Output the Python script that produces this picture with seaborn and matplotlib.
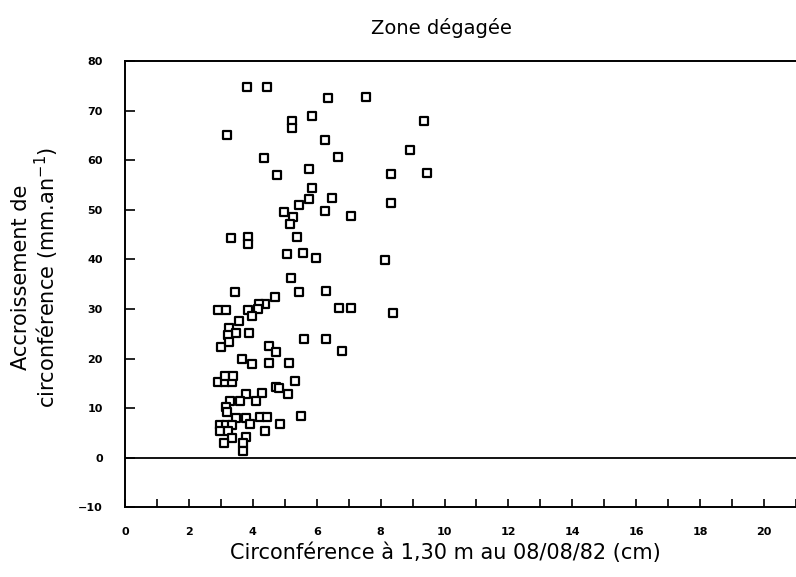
import matplotlib
matplotlib.use("Agg")
import matplotlib.pyplot as plt
import seaborn as sns
import pandas as pd
from matplotlib.ticker import MultipleLocator

# circonférence (cm) et accroissement (mm/an)
circ = [3.82, 4.45, 6.36, 7.55, 5.24, 5.24, 5.86, 3.20, 6.27, 4.36,
        6.68, 4.76, 5.77, 5.86, 5.77, 6.49, 5.45, 4.98, 6.27, 7.08,
        5.27, 5.17, 5.39, 3.32, 3.86, 3.86, 5.08, 5.58, 5.99, 9.37,
        8.93, 8.34, 9.44, 8.34, 8.15, 8.40, 5.20, 3.45, 5.45, 6.30,
        4.70, 4.39, 4.20, 4.17, 3.86, 3.98, 2.92, 3.17, 3.57, 3.26,
        3.48, 3.23, 3.89, 5.61, 6.30, 6.71, 7.08, 3.01, 3.26, 4.51,
        4.73, 6.80, 3.67, 3.98, 4.51, 5.14, 5.33, 2.92, 3.13, 3.35,
        3.13, 3.39, 4.73, 4.83, 5.11, 4.29, 3.79, 3.61, 3.29, 4.11,
        3.17, 3.20, 3.48, 3.79, 4.23, 4.45, 4.86, 5.52, 2.98, 3.17,
        3.35, 3.92, 2.98, 3.23, 4.39, 3.79, 3.35, 3.10, 3.70, 3.70]
accr = [74.7, 74.7, 72.5, 72.7, 67.9, 66.5, 68.9, 65.1, 64.0, 60.4,
        60.6, 57.0, 58.2, 54.5, 52.1, 52.3, 50.9, 49.5, 49.7, 48.7,
        48.5, 47.1, 44.6, 44.4, 44.6, 43.2, 41.0, 41.2, 40.2, 67.9,
        62.0, 57.2, 57.4, 51.3, 39.8, 29.1, 36.2, 33.5, 33.5, 33.7,
        32.5, 31.1, 30.9, 29.9, 29.7, 28.5, 29.7, 29.7, 27.5, 26.1,
        25.1, 24.8, 25.1, 24.0, 24.0, 30.1, 30.1, 22.4, 23.4, 22.6,
        21.4, 21.6, 20.0, 18.8, 19.0, 19.0, 15.4, 15.2, 15.2, 15.2,
        16.4, 16.4, 14.3, 14.1, 12.9, 13.1, 12.9, 11.5, 11.5, 11.5,
        10.3, 9.3, 7.9, 7.9, 8.1, 8.1, 6.7, 8.3, 6.5, 6.5,
        6.5, 6.7, 5.3, 5.3, 5.3, 4.2, 4.0, 3.0, 3.0, 1.4]

x_ticklabels = list(range(0, 21, 2))
y_ticklabels = list(range(-10, 81, 10))

df = pd.DataFrame({"circ": circ, "accr": accr})

# ticks vers l'intérieur, réglés avant de créer les axes
sns.set_style("ticks", {"xtick.direction": "in", "ytick.direction": "in"})
plt.rcParams.update({
    'font.family': ['DejaVu Sans'],
    'text.color': 'black',
    'xtick.color': 'black', 'ytick.color': 'black',
    'xtick.bottom': True, 'ytick.left': True,
    'xtick.top': False, 'ytick.right': False,
    'xtick.major.size': 6, 'xtick.minor.size': 6,
    'ytick.major.size': 7,
    'xtick.major.width': 1.2, 'xtick.minor.width': 1.2,
    'ytick.major.width': 1.2,
    'xtick.major.pad': 14, 'ytick.major.pad': 16,
    'xtick.labelsize': 8, 'ytick.labelsize': 8,
})

fig = plt.figure(figsize=(7.96, 5.77), dpi=100)
ax = fig.add_axes([0.157, 0.121, 0.843, 0.773])

sns.scatterplot(data=df, x="circ", y="accr", marker="s", s=32,
                facecolor="white", edgecolor="black", linewidth=1.6,
                ax=ax, zorder=3)

ax.axhline(0, color="black", linewidth=1.3)

ax.set_xlim(0, 21)
ax.set_ylim(-10, 80)
ax.set_xticks(x_ticklabels)
ax.xaxis.set_minor_locator(MultipleLocator(1))
ax.set_yticks(y_ticklabels)
for lbl in ax.get_xticklabels() + ax.get_yticklabels():
    lbl.set_fontweight("bold")

for side in ["left", "bottom", "top"]:
    ax.spines[side].set_color("black")
    ax.spines[side].set_linewidth(1.4)
ax.spines["right"].set_visible(False)

ax.set_xlabel("")
ax.set_ylabel("")
fig.text(0.56, 0.042, "Circonférence à 1,30 m au 08/08/82 (cm)",
         ha="center", va="center", fontsize=15)
fig.text(0.045, 0.52, "Accroissement de\ncirconférence (mm.an$^{-1}$)",
         ha="center", va="center", rotation=90, fontsize=15,
         linespacing=1.1)
fig.text(0.555, 0.952, "Zone dégagée", ha="center", va="center",
         fontsize=14)

fig.savefig("out.png", dpi=100)
